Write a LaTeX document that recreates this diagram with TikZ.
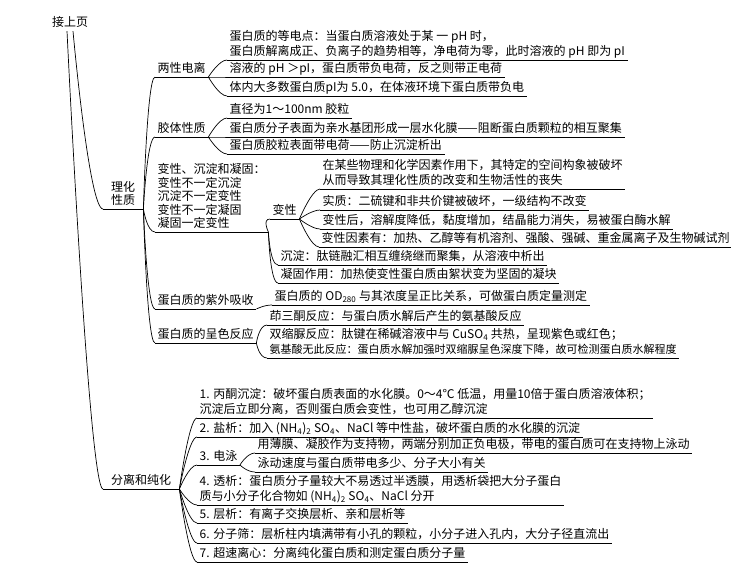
\documentclass[tikz,border=0pt]{standalone}
\usepackage{fontspec}
\setmainfont{Noto Sans CJK SC}
\tikzset{
  topic/.style={anchor=south west, inner xsep=2.5pt, inner ysep=1.5pt, text depth=2.5pt, align=left, font=\fontsize{12}{15}\selectfont},
  maintopic/.style={topic, inner xsep=8pt, align=center, font=\fontsize{12}{13.5}\selectfont},
  uline/.style={line width=0.7pt},
  branch/.style={line width=0.7pt, to path={.. controls +(0,0) and +(-8,0) .. (\tikztotarget)}},
  trunk/.style={line width=0.7pt, to path={.. controls +(0,0) and +(-14,0) .. (\tikztotarget)}}
}
\begin{document}
\begin{tikzpicture}[x=1pt,y=-1pt]
  \useasboundingbox (0,0) rectangle (731,579);
  \node[font=\fontsize{12}{15}\selectfont] (root) at (70,22) {接上页};

  % 理化性质
  \node[maintopic] (lihua) at (103,209) {理化\\性质};
  \node[topic] (liangxing) at (155,77) {两性电离};
  \node[topic] (dengdian) at (227,60) {蛋白质的等电点：当蛋白质溶液处于某 一 pH 时，\\蛋白质解离成正、负离子的趋势相等，净电荷为零，此时溶液的 pH 即为 pI};
  \node[topic] (phval) at (227,77) {溶液的 pH ＞pI，蛋白质带负电荷，反之则带正电荷};
  \node[topic] (tinei) at (227,96) {体内大多数蛋白质pI为 5.0，在体液环境下蛋白质带负电};

  \node[topic] (jiaoti) at (155,137) {胶体性质};
  \node[topic] (zhijing) at (227,118) {直径为1～100nm 胶粒};
  \node[topic] (shuihua) at (227,137) {蛋白质分子表面为亲水基团形成一层水化膜——阻断蛋白质颗粒的相互聚集};
  \node[topic] (daidian) at (227,154) {蛋白质胶粒表面带电荷——防止沉淀析出};

  \node[topic, font=\fontsize{12}{13.5}\selectfont] (bianall) at (155,232) {变性、沉淀和凝固：\\变性不一定沉淀\\沉淀不一定变性\\变性不一定凝固\\凝固一定变性};
  \node[topic] (bianxing) at (270,219) {变性};
  \node[topic] (wuli) at (320,189) {在某些物理和化学因素作用下，其特定的空间构象被破坏\\从而导致其理化性质的改变和生物活性的丧失};
  \node[topic] (shizhi) at (320,210) {实质：二硫键和非共价键被破坏，一级结构不改变};
  \node[topic] (bianhou) at (320,229) {变性后，溶解度降低，黏度增加，结晶能力消失，易被蛋白酶水解};
  \node[topic] (yinsu) at (319,247) {变性因素有：加热、乙醇等有机溶剂、强酸、强碱、重金属离子及生物碱试剂};
  \node[topic] (chendian) at (278,265) {沉淀：肽链融汇相互缠绕继而聚集，从溶液中析出};
  \node[topic] (ninggu) at (278,283) {凝固作用：加热使变性蛋白质由絮状变为坚固的凝块};

  \node[topic] (ziwai) at (155,309) {蛋白质的紫外吸收};
  \node[topic] (od) at (272,305) {蛋白质的 OD\textsubscript{280} 与其浓度呈正比关系，可做蛋白质定量测定};

  \node[topic] (chengse) at (155,343) {蛋白质的呈色反应};
  \node[topic] (yinsan) at (267,325) {茚三酮反应：与蛋白质水解后产生的氨基酸反应};
  \node[topic] (shuangsuo) at (267,358) {双缩脲反应：肽键在稀碱溶液中与 CuSO\textsubscript{4} 共热，呈现紫色或红色；\\{\fontsize{11}{15}\selectfont 氨基酸无此反应：蛋白质水解加强时双缩脲呈色深度下降，故可检测蛋白质水解程度}};

  % 分离和纯化
  \node[maintopic] (fenli) at (103,489) {分离和纯化};
  \node[topic] (bingtong) at (197,418) {1. 丙酮沉淀：破坏蛋白质表面的水化膜。0～4℃ 低温，用量10倍于蛋白质溶液体积；\\沉淀后立即分离，否则蛋白质会变性，也可用乙醇沉淀};
  \node[topic] (yanxi) at (197,437) {2. 盐析：加入 (NH\textsubscript{4})\textsubscript{2} SO\textsubscript{4}、NaCl 等中性盐，破坏蛋白质的水化膜的沉淀};
  \node[topic] (dianyong) at (197,465) {3. 电泳};
  \node[topic] (baomo) at (255,453) {用薄膜、凝胶作为支持物，两端分别加正负电极，带电的蛋白质可在支持物上泳动};
  \node[topic] (sudu) at (255,472) {泳动速度与蛋白质带电多少、分子大小有关};
  \node[topic] (touxi) at (197,505) {4. 透析：蛋白质分子量较大不易透过半透膜，用透析袋把大分子蛋白\\质与小分子化合物如 (NH\textsubscript{4})\textsubscript{2} SO\textsubscript{4}、NaCl 分开};
  \node[topic] (cengxi) at (197,523) {5. 层析：有离子交换层析、亲和层析等};
  \node[topic] (shai) at (197,543) {6. 分子筛：层析柱内填满带有小孔的颗粒，小分子进入孔内，大分子径直流出};
  \node[topic] (chaosu) at (197,562) {7. 超速离心：分离纯化蛋白质和测定蛋白质分子量};

  % underlines
  \foreach \n in {lihua,liangxing,dengdian,phval,tinei,jiaoti,zhijing,shuihua,daidian,
    bianall,bianxing,wuli,shizhi,bianhou,yinsu,chendian,ninggu,ziwai,od,chengse,yinsan,shuangsuo,
    fenli,bingtong,yanxi,dianyong,baomo,sudu,touxi,cengxi,shai,chaosu}
    \draw[uline] (\n.south west) -- (\n.south east);

  % connectors
  \draw[trunk] ([xshift=3pt]root.south) to (lihua.south west);
  \draw[trunk] ([xshift=-3pt]root.south) to (fenli.south west);
  \foreach \c in {liangxing,jiaoti,bianall,ziwai,chengse}
    \draw[branch] (lihua.south east) to (\c.south west);
  \foreach \c in {dengdian,phval,tinei}
    \draw[branch] (liangxing.south east) to (\c.south west);
  \foreach \c in {zhijing,shuihua,daidian}
    \draw[branch] (jiaoti.south east) to (\c.south west);
  \foreach \c in {bianxing,chendian,ninggu}
    \draw[branch] (bianall.south east) to (\c.south west);
  \foreach \c in {wuli,shizhi,bianhou,yinsu}
    \draw[branch] (bianxing.south east) to (\c.south west);
  \draw[branch] (ziwai.south east) to (od.south west);
  \foreach \c in {yinsan,shuangsuo}
    \draw[branch] (chengse.south east) to (\c.south west);
  \foreach \c in {bingtong,yanxi,dianyong,touxi,cengxi,shai,chaosu}
    \draw[branch] (fenli.south east) to (\c.south west);
  \foreach \c in {baomo,sudu}
    \draw[branch] (dianyong.south east) to (\c.south west);
\end{tikzpicture}
\end{document}
